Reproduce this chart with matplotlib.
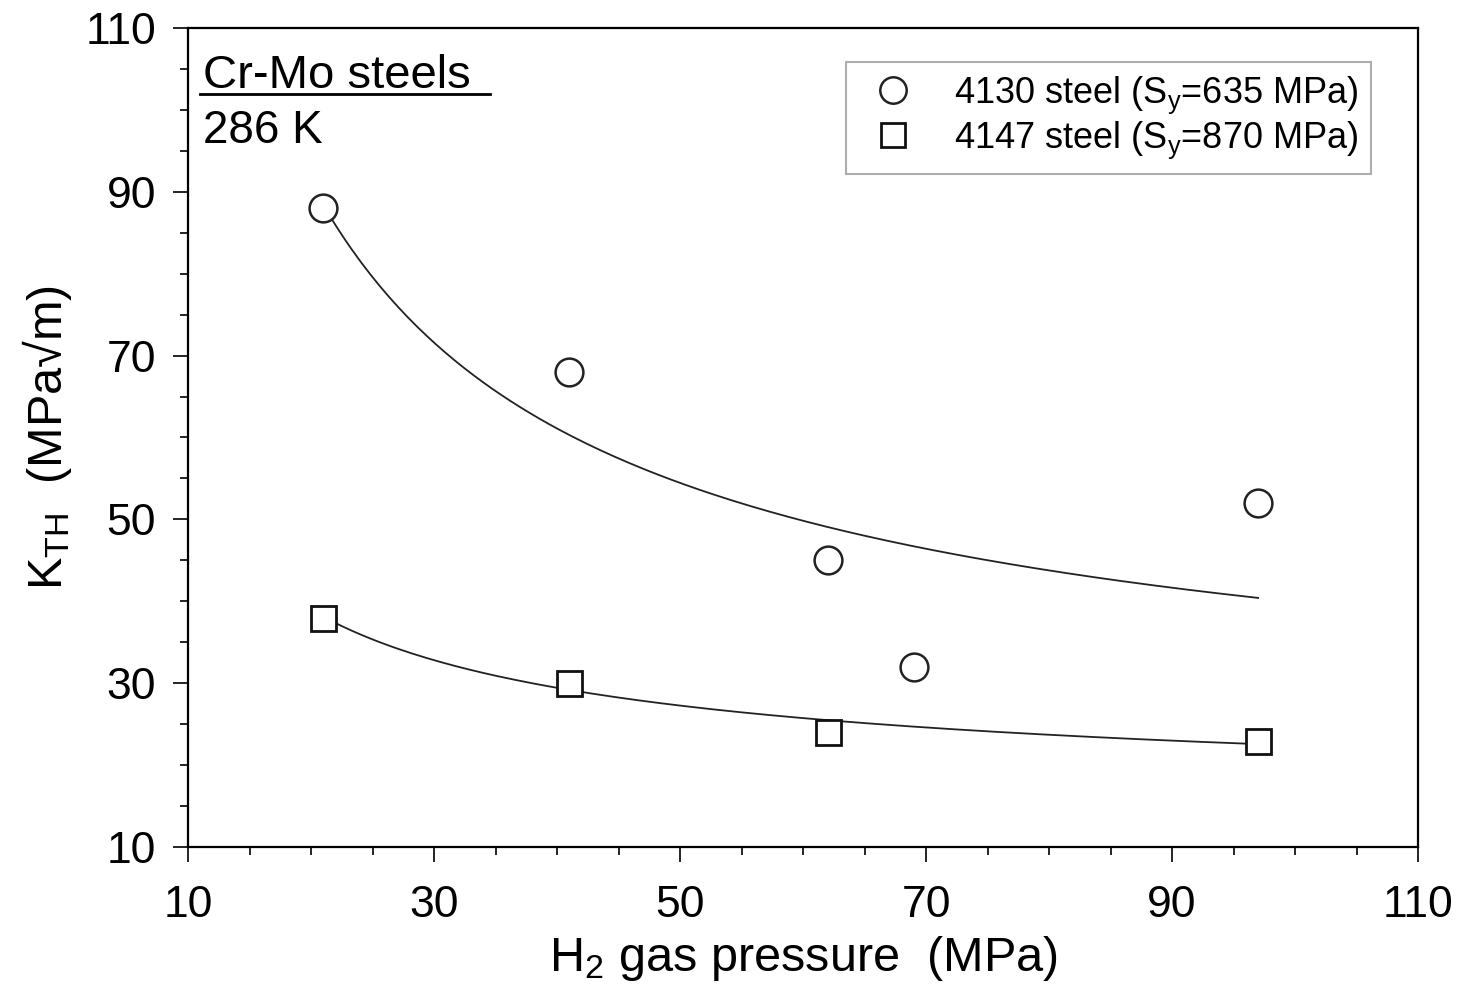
import matplotlib.pyplot as plt
import numpy as np
from matplotlib.ticker import MultipleLocator

plt.rcParams['font.family'] = ['Liberation Sans', 'DejaVu Sans']
plt.rcParams['mathtext.default'] = 'regular'

# data
p_4130 = [21, 41, 62, 69, 97]
k_4130 = [88, 68, 45, 32, 52]
p_4147 = [21, 41, 62, 97]
k_4147 = [38, 30, 24, 23]

# fitted trend curves: K = c + a * p**b
fit_4130 = (757.6, -0.79, 20.0)
fit_4147 = (213.3, -0.73, 15.0)
fit_range = (21, 97)

major_ticks = [10, 30, 50, 70, 90, 110]

fig = plt.figure(figsize=(14.61, 9.88), dpi=100)
ax = fig.add_axes([0.1287, 0.1427, 0.8419, 0.829])

px = np.linspace(fit_range[0], fit_range[1], 200)
for a, b, c in (fit_4130, fit_4147):
    ax.plot(px, c + a * px ** b, color='#222222', lw=1.3, zorder=2)

ax.plot(p_4130, k_4130, 'o', ms=20, mfc='white', mec='#222222', mew=1.8,
        ls='none', label='4130 steel (S$_y$=635 MPa)', zorder=3)
ax.plot(p_4147, k_4147, 's', ms=18, mfc='white', mec='#111111', mew=2,
        ls='none', label='4147 steel (S$_y$=870 MPa)', zorder=3)

ax.set_xlim(10, 110)
ax.set_ylim(10, 110)
ax.set_xticks(major_ticks)
ax.set_yticks(major_ticks)
ax.xaxis.set_minor_locator(MultipleLocator(5))
ax.yaxis.set_minor_locator(MultipleLocator(5))
ax.tick_params(which='major', direction='out', length=11, width=1.2,
               labelsize=32, pad=12, top=False, right=False)
ax.tick_params(axis='x', which='major', pad=16)
ax.tick_params(which='minor', direction='out', length=6, width=1.2,
               top=False, right=False)
for s in ax.spines.values():
    s.set_linewidth(1.6)

ax.set_xlabel('H$_2$ gas pressure  (MPa)', fontsize=35, labelpad=6)
ax.set_ylabel('K$_{TH}$  (MPa√m)', fontsize=35, labelpad=8)

ax.text(0.012, 0.927, 'Cr-Mo steels', transform=ax.transAxes, fontsize=34)
ax.plot([0.0098, 0.2455], [0.919, 0.919], transform=ax.transAxes,
        color='black', lw=2, clip_on=False)
ax.text(0.012, 0.86, '286 K', transform=ax.transAxes, fontsize=33)

leg = ax.legend(loc='upper right', bbox_to_anchor=(0.9618, 0.9585),
                fontsize=26, frameon=True, fancybox=False, borderaxespad=0,
                handletextpad=0.75, borderpad=0.35, labelspacing=0.1,
                handlelength=1.9, markerscale=0.95)
leg.get_frame().set_edgecolor('#999999')
leg.get_frame().set_linewidth(1.5)

plt.savefig('out.png', dpi=100)
